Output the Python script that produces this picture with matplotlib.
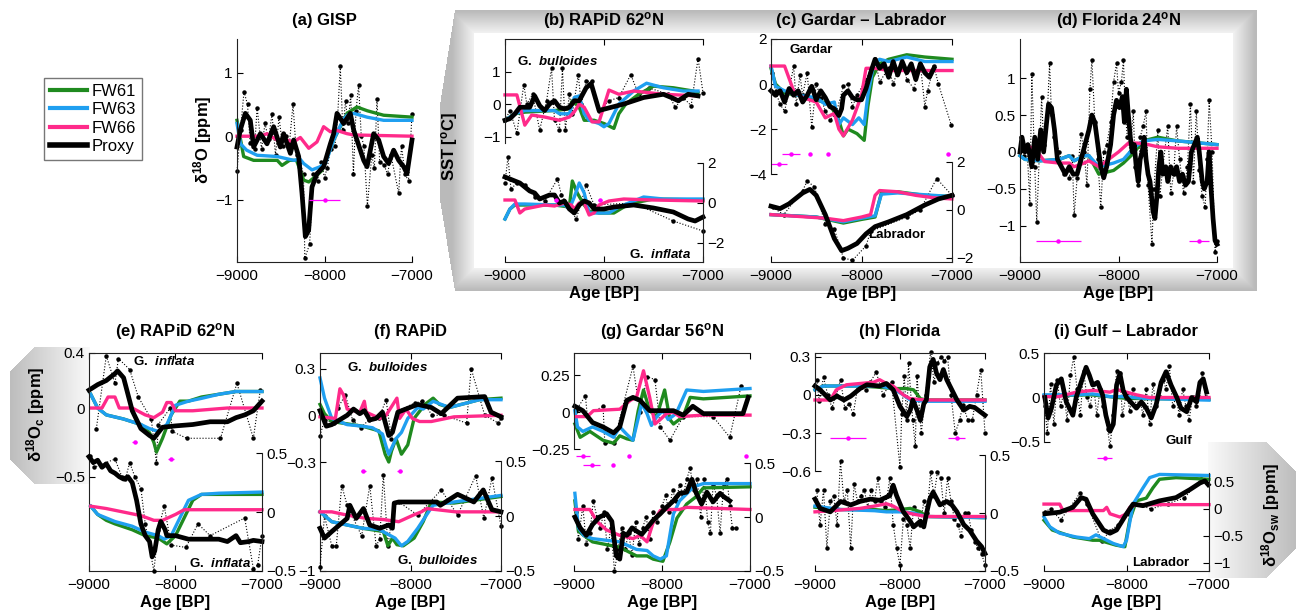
import numpy as np
import matplotlib
matplotlib.use('Agg')
import matplotlib.pyplot as plt
from matplotlib.path import Path
from matplotlib.lines import Line2D
from matplotlib.ticker import FuncFormatter

plt.rcParams['font.family'] = ['Liberation Sans', 'DejaVu Sans']
plt.rcParams['mathtext.fontset'] = 'custom'
plt.rcParams['mathtext.rm'] = 'Liberation Sans'
plt.rcParams['mathtext.it'] = 'Liberation Sans:italic'
plt.rcParams['mathtext.bf'] = 'Liberation Sans:bold'
plt.rcParams['mathtext.bfit'] = 'Liberation Sans:italic:bold'

GREEN = '#1f8a1f'
BLUE = '#1f9ff0'
PINK = '#ff2a8a'
MAG = '#ff00ff'

series_names = ['FW61', 'FW63', 'FW66', 'Proxy']

# ---------------- (a) GISP ----------------
a_fw61 = [(-9000, 0.25), (-8924, -0.32), (-8810, -0.38), (-8540, -0.38), (-8486, -0.46), (-8400, -0.38),
          (-8320, -0.38), (-8238, -0.69), (-8180, -0.72), (-8090, -0.62), (-8030, -0.54), (-7895, -0.06),
          (-7743, 0.36), (-7630, 0.46), (-7510, 0.4), (-7324, 0.33), (-7000, 0.3)]
a_fw63 = [(-9000, 0.2), (-8960, -0.12), (-8890, -0.22), (-8770, -0.3), (-8540, -0.32), (-8350, -0.38),
          (-8280, -0.36), (-8238, -0.43), (-8143, -0.53), (-8050, -0.48), (-7990, -0.43), (-7895, -0.06),
          (-7790, 0.25), (-7743, 0.33), (-7667, 0.36), (-7514, 0.3), (-7324, 0.25), (-7000, 0.25)]
a_fw66 = [(-9000, 0.0), (-8733, 0.0), (-8657, 0.04), (-8543, -0.06), (-8430, -0.06), (-8352, -0.09),
          (-8276, -0.02), (-8180, -0.19), (-8086, -0.09), (-8010, 0.15), (-7933, 0.07), (-7857, 0.09),
          (-7743, 0.04), (-7667, 0.02), (-7000, 0.0)]
a_proxy = [(-9000, -0.17), (-8962, 0.1), (-8905, 0.36), (-8848, 0.25), (-8810, -0.17), (-8733, 0.04),
           (-8657, -0.12), (-8581, 0.15), (-8505, -0.17), (-8467, 0.04), (-8390, -0.27), (-8352, -0.06),
           (-8295, -0.32), (-8257, -0.9), (-8219, -1.58), (-8181, -1.48), (-8143, -0.8), (-8086, -0.59),
           (-8010, -0.48), (-7933, -0.12), (-7895, 0.04), (-7857, 0.36), (-7781, 0.2), (-7705, 0.36),
           (-7667, 0.1), (-7629, -0.06), (-7552, -0.38), (-7514, -0.48), (-7476, -0.22), (-7438, 0.04),
           (-7381, -0.06), (-7324, -0.32), (-7267, -0.43), (-7210, -0.22), (-7152, -0.38), (-7095, -0.48),
           (-7057, -0.59), (-7000, -0.06)]
a_dots = [(-9000, -0.55), (-8960, 0.1), (-8920, 0.7), (-8880, 0.5), (-8850, -0.1), (-8800, -0.2),
          (-8770, 0.45), (-8720, -0.2), (-8680, 0.2), (-8640, -0.05), (-8600, 0.35), (-8560, -0.3),
          (-8520, 0.3), (-8480, -0.15), (-8440, 0.0), (-8400, -0.1), (-8360, 0.5), (-8320, -0.3),
          (-8280, -0.4), (-8240, -0.6), (-8225, -1.92), (-8170, -1.7), (-8130, -0.6), (-8080, -0.7),
          (-8040, -0.4), (-8000, -0.65), (-7970, -0.5), (-7930, -0.2), (-7880, -0.15), (-7850, 0.3),
          (-7820, 1.1), (-7790, 0.1), (-7760, 0.55), (-7730, 0.2), (-7700, 0.65), (-7670, -0.6),
          (-7640, 0.4), (-7610, 0.8), (-7580, 0.0), (-7550, -0.15), (-7510, -1.1), (-7460, -0.3),
          (-7430, -0.5), (-7400, 0.59), (-7370, -0.4), (-7320, -0.45), (-7280, -0.6), (-7240, -0.3),
          (-7152, -0.9), (-7120, -0.15), (-7080, -0.6), (-7040, -0.7), (-7000, 0.35)]
a_err = [(-8000, -1.0, 175)]

# ---------------- (b) RAPiD 62N, SST ----------------
b_top_fw61 = [(-9000, -0.5), (-8950, -0.4), (-8900, -0.3), (-8800, -0.25), (-8500, -0.2), (-8350, -0.15),
              (-8320, 0.1), (-8250, -0.1), (-8200, -0.5), (-8100, -0.5), (-8000, -0.6), (-7900, -0.75),
              (-7850, -0.3), (-7780, 0.0), (-7650, 0.3), (-7500, 0.55), (-7300, 0.5), (-7100, 0.4), (-7050, 0.35)]
b_top_fw63 = [(-9000, -0.5), (-8900, -0.3), (-8800, -0.2), (-8500, -0.2), (-8450, -0.3), (-8350, -0.3),
              (-8300, 0.2), (-8250, 0.25), (-8200, -0.3), (-8150, -0.5), (-8050, -0.6), (-8000, -0.7),
              (-7950, -0.6), (-7850, 0.0), (-7700, 0.4), (-7570, 0.64), (-7400, 0.5), (-7200, 0.4), (-7050, 0.4)]
b_top_fw66 = [(-9000, 0.28), (-8880, 0.28), (-8800, -0.65), (-8730, -0.34), (-8600, -0.4), (-8450, -0.5),
              (-8350, -0.4), (-8300, -0.24), (-8250, 0.0), (-8200, -0.1), (-8120, -0.55), (-8050, -0.55),
              (-7950, 0.43), (-7850, 0.3), (-7700, 0.4), (-7400, 0.3), (-7050, 0.25)]
b_top_proxy = [(-9000, -0.5), (-8950, -0.45), (-8900, -0.3), (-8850, -0.1), (-8750, -0.1), (-8700, 0.25),
               (-8650, -0.05), (-8600, -0.2), (-8550, 0.0), (-8500, 0.1), (-8450, -0.1), (-8400, -0.15),
               (-8350, -0.1), (-8300, 0.1), (-8250, 0.1), (-8180, 0.5), (-8130, 0.63), (-8050, -0.2),
               (-7800, 0.0), (-7600, 0.2), (-7400, 0.3), (-7320, 0.2), (-7250, 0.1), (-7150, 0.3), (-7050, 0.25)]
b_top_dots = [(-9000, -0.5), (-8950, -0.2), (-8880, -0.9), (-8810, 0.6), (-8780, 0.0), (-8720, 0.3),
              (-8650, -0.8), (-8580, 0.1), (-8530, 1.1), (-8500, -0.5), (-8450, -0.8), (-8420, 1.1),
              (-8390, -0.8), (-8350, 0.3), (-8320, -0.3), (-8260, 0.9), (-8230, 0.0), (-8180, 0.7),
              (-8120, 0.7), (-8050, -0.2), (-7950, 0.1), (-7850, 0.2), (-7730, 0.9), (-7650, 0.3),
              (-7550, 0.5), (-7350, 0.3), (-7280, -0.1), (-7200, 0.2), (-7120, -0.05), (-7050, 1.4), (-7000, 0.35)]
b_bot_fw61 = [(-9000, -0.8), (-8950, -0.3), (-8900, -0.1), (-8800, -0.1), (-8500, -0.1), (-8350, -0.2),
              (-8320, 1.1), (-8270, 0.5), (-8200, -0.1), (-8150, -0.4), (-8050, -0.5), (-7900, -0.5),
              (-7800, -0.2), (-7700, 0.0), (-7500, 0.2), (-7000, 0.15)]
b_bot_fw63 = [(-9000, -0.8), (-8950, -0.3), (-8900, -0.05), (-8800, -0.05), (-8500, -0.1), (-8400, -0.1),
              (-8350, -0.3), (-8300, 0.3), (-8250, 1.0), (-8200, 0.5), (-8150, -0.5), (-8050, -0.5),
              (-7950, -0.5), (-7850, -0.2), (-7700, 0.1), (-7600, 0.3), (-7400, 0.2), (-7000, 0.2)]
b_bot_fw66 = [(-9000, 0.15), (-8900, 0.15), (-8850, -0.5), (-8800, -0.3), (-8700, -0.2), (-8600, -0.1),
              (-8500, -0.15), (-8400, 0.0), (-8330, -0.1), (-8300, -0.3), (-8250, 0.0), (-8200, 0.0),
              (-8150, -0.6), (-8100, -0.5), (-8050, -0.1), (-7950, 0.1), (-7800, 0.2), (-7500, 0.15), (-7000, 0.1)]
b_bot_proxy = [(-9000, 1.3), (-8950, 1.2), (-8900, 1.1), (-8850, 1.0), (-8800, 0.8), (-8750, 0.6),
               (-8700, 0.5), (-8650, 0.2), (-8600, 0.3), (-8550, 0.4), (-8500, 0.4), (-8450, 0.0),
               (-8400, 0.1), (-8350, -0.3), (-8300, -0.5), (-8250, -0.1), (-8200, 0.1), (-8150, 0.0),
               (-8100, -0.3), (-8000, -0.3), (-7900, -0.2), (-7700, -0.1), (-7500, -0.25), (-7300, -0.45),
               (-7150, -0.8), (-7080, -0.9), (-7000, -0.7)]
b_bot_dots = [(-9000, 1.0), (-8970, 2.3), (-8940, 0.7), (-8880, 1.0), (-8800, 0.9), (-8700, 0.3),
              (-8600, 0.1), (-8470, 1.2), (-8430, 0.4), (-8280, -0.8), (-8180, 0.9), (-8100, -0.1),
              (-7700, 0.0), (-7300, -0.9), (-7000, -1.4)]
b_err = [(-8480, 0.15, 20), (-8045, 0.15, 20)]

# ---------------- (c) Gardar - Labrador, SST ----------------
c_top_fw61 = [(-9000, 0.7), (-8950, 0.0), (-8850, -0.4), (-8700, -0.5), (-8500, -0.7), (-8350, -0.9),
              (-8250, -1.6), (-8200, -2.3), (-8150, -2.0), (-8050, -2.2), (-7970, -2.5), (-7930, -1.0),
              (-7880, 0.3), (-7800, 0.9), (-7700, 1.1), (-7500, 1.3), (-7300, 1.2), (-7000, 1.1)]
c_top_fw63 = [(-9000, 0.8), (-8950, -0.1), (-8850, -0.3), (-8700, -0.5), (-8500, -0.6), (-8400, -0.9),
              (-8300, -0.8), (-8250, -1.8), (-8200, -1.5), (-8100, -1.8), (-8030, -1.5), (-7970, -1.8),
              (-7930, -0.5), (-7870, 0.8), (-7800, 1.1), (-7700, 1.0), (-7500, 1.2), (-7300, 1.0), (-7000, 1.0)]
c_top_fw66 = [(-9000, 0.8), (-8850, 0.8), (-8750, -0.3), (-8650, -0.6), (-8500, -0.8), (-8400, -1.5),
              (-8300, -1.3), (-8250, -2.0), (-8200, -2.3), (-8100, -1.6), (-8000, -0.5), (-7950, 0.7),
              (-7850, 0.7), (-7700, 0.6), (-7500, 0.6), (-7000, 0.6)]
c_top_proxy = [(-9000, -0.3), (-8950, -0.5), (-8900, -0.3), (-8850, -0.8), (-8800, -0.2), (-8750, -0.5),
               (-8700, -0.3), (-8650, -0.8), (-8600, -0.5), (-8550, -0.1), (-8500, -0.7), (-8450, -0.3),
               (-8400, -0.6), (-8350, -1.0), (-8300, -1.1), (-8250, -1.4), (-8220, -1.1), (-8200, -0.5),
               (-8150, -0.3), (-8100, -0.6), (-8050, -0.7), (-8000, -0.7), (-7950, -0.2), (-7900, 0.5),
               (-7850, 1.1), (-7800, 0.7), (-7750, 0.9), (-7700, 0.3), (-7650, 1.0), (-7600, 0.4),
               (-7550, 1.0), (-7500, 0.5), (-7450, 0.9), (-7400, 0.2), (-7350, 0.9), (-7300, 0.5),
               (-7250, 0.3), (-7200, 0.7)]
c_top_dots = [(-8990, 0.5), (-8950, -0.3), (-8900, -0.9), (-8850, -1.2), (-8800, -0.3), (-8750, 0.8),
              (-8720, -0.9), (-8680, 0.4), (-8650, -0.5), (-8600, 0.5), (-8550, -1.9), (-8500, 0.0),
              (-8450, -0.6), (-8400, -1.2), (-8350, -1.6), (-8280, -1.3), (-8200, -0.1), (-8150, 0.0),
              (-8100, -1.0), (-8050, -0.5), (-7950, 0.2), (-7850, 1.1), (-7800, 0.1), (-7700, 0.7),
              (-7650, 0.0), (-7550, 1.2), (-7500, 0.2), (-7420, -0.2), (-7350, 0.9), (-7300, -1.0),
              (-7270, -0.3), (-7200, 0.8), (-7150, 0.0), (-7010, -1.8)]
c_err = [(-8780, -3.1, 100), (-8570, -3.1, 15), (-8370, -3.1, 15), (-7040, -3.1, 15), (-8910, -3.57, 90)]
c_bot_fw61 = [(-9000, -0.2), (-8500, -0.3), (-8200, -0.55), (-8000, -0.4), (-7850, -0.3), (-7780, 0.7),
              (-7600, 0.75), (-7300, 0.6), (-7000, 0.55)]
c_bot_fw63 = [(-9000, -0.2), (-8500, -0.3), (-8200, -0.5), (-8000, -0.35), (-7850, -0.25), (-7780, 0.65),
              (-7600, 0.7), (-7000, 0.55)]
c_bot_fw66 = [(-9000, -0.2), (-8800, -0.25), (-8600, -0.3), (-8400, -0.35), (-8200, -0.45), (-8000, -0.3),
              (-7900, -0.2), (-7850, 0.6), (-7800, 0.8), (-7600, 0.75), (-7400, 0.6), (-7200, 0.5), (-7000, 0.45)]
c_bot_proxy = [(-9000, 0.15), (-8900, 0.05), (-8800, 0.25), (-8650, 0.7), (-8570, 0.85), (-8500, 0.6),
               (-8400, -0.2), (-8300, -1.2), (-8220, -1.7), (-8150, -1.6), (-8050, -1.4), (-7950, -1.0),
               (-7850, -0.7), (-7700, -0.5), (-7500, -0.2), (-7300, 0.2), (-7150, 0.45), (-7000, 0.6)]
c_bot_dots = [(-8980, 0.1), (-8860, -0.2), (-8650, 0.8), (-8600, 1.2), (-8520, 0.95), (-8400, -0.6),
              (-8300, -0.8), (-8200, -2.0), (-8100, -2.1), (-7950, -1.5), (-7900, -0.9), (-7500, -0.3),
              (-7350, 0.0), (-7170, 1.3), (-7000, 0.6)]

# ---------------- (d) Florida 24N, SST ----------------
d_fw61 = [(-9000, -0.05), (-8950, -0.1), (-8800, -0.12), (-8600, -0.1), (-8500, -0.05), (-8450, -0.12),
          (-8350, -0.05), (-8300, -0.05), (-8200, -0.3), (-8050, -0.25), (-7950, -0.15), (-7850, -0.02),
          (-7750, 0.15), (-7600, 0.2), (-7400, 0.15), (-7000, 0.1)]
d_fw63 = [(-9000, -0.05), (-8950, -0.1), (-8800, -0.12), (-8600, -0.1), (-8500, -0.05), (-8450, -0.12),
          (-8350, -0.05), (-8300, -0.05), (-8200, -0.2), (-8050, -0.15), (-7950, -0.1), (-7850, 0.05),
          (-7750, 0.15), (-7600, 0.17), (-7400, 0.15), (-7000, 0.1)]
d_fw66 = [(-8960, 0.08), (-8850, 0.05), (-8750, -0.13), (-8600, -0.15), (-8500, -0.15), (-8450, -0.2),
          (-8350, -0.15), (-8300, -0.12), (-8200, -0.2), (-8150, -0.15), (-8000, 0.0), (-7900, 0.12),
          (-7800, 0.12), (-7700, 0.1), (-7600, 0.07), (-7400, 0.05), (-7000, 0.05)]
d_proxy = [(-9000, 0.0), (-8980, 0.2), (-8950, 0.0), (-8920, 0.1), (-8880, -0.2), (-8850, 0.2),
           (-8820, -0.1), (-8790, 0.3), (-8760, 0.0), (-8730, 0.4), (-8710, 0.65), (-8680, 0.6),
           (-8650, 0.3), (-8620, -0.1), (-8580, -0.2), (-8540, -0.3), (-8500, -0.2), (-8460, -0.3),
           (-8420, -0.3), (-8380, -0.1), (-8340, 0.1), (-8300, 0.3), (-8270, 0.5), (-8240, 0.4),
           (-8210, 0.1), (-8180, -0.2), (-8150, -0.35), (-8120, -0.2), (-8080, 0.1), (-8050, 0.5),
           (-8020, 0.7), (-7990, 0.6), (-7960, 0.75), (-7940, 0.4), (-7920, 0.85), (-7900, 0.5),
           (-7880, 0.2), (-7860, 0.0), (-7840, 0.1), (-7820, -0.2), (-7800, -0.4), (-7780, -0.1),
           (-7760, 0.0), (-7740, 0.2), (-7720, -0.1), (-7700, -0.3), (-7680, -0.4), (-7650, -0.8),
           (-7630, -0.9), (-7610, -0.6), (-7590, -0.2), (-7570, 0.0), (-7550, -0.3), (-7520, -0.2),
           (-7500, -0.4), (-7470, -0.2), (-7440, -0.3), (-7410, -0.2), (-7380, -0.4), (-7350, -0.3),
           (-7320, -0.45), (-7290, -0.4), (-7260, 0.0), (-7230, 0.1), (-7200, 0.2), (-7180, 0.0),
           (-7150, -0.4), (-7130, -0.5), (-7100, -0.4), (-7080, 0.0), (-7060, -0.5), (-7040, -0.9),
           (-7020, -1.2), (-7000, -1.25)]
d_dots = [(-8990, 0.2), (-8960, -0.05), (-8930, 0.1), (-8900, -0.7), (-8880, 1.05), (-8850, -0.2),
          (-8830, -0.95), (-8800, 0.1), (-8780, 0.75), (-8760, 0.1), (-8720, 0.6), (-8700, 1.2),
          (-8680, 0.5), (-8650, 0.2), (-8600, 0.0), (-8550, -0.3), (-8500, -0.35), (-8470, -0.05),
          (-8450, -0.85), (-8420, -0.35), (-8380, 0.25), (-8350, 0.0), (-8320, -0.45), (-8290, 0.85),
          (-8270, 1.25), (-8240, 0.4), (-8210, -0.1), (-8180, -0.75), (-8150, 0.0), (-8120, 0.1),
          (-8080, 0.4), (-8050, 0.95), (-8020, 1.2), (-8000, 0.8), (-7970, 0.95), (-7950, 1.25),
          (-7930, 0.5), (-7910, 0.2), (-7880, 0.0), (-7850, 0.55), (-7830, -0.2), (-7800, -0.45),
          (-7780, 0.2), (-7750, 0.35), (-7720, 0.55), (-7700, -0.45), (-7660, -1.25), (-7640, -0.5),
          (-7600, 0.3), (-7580, -0.6), (-7550, -0.2), (-7500, 0.35), (-7470, -0.55), (-7440, -0.3),
          (-7410, 0.35), (-7380, -0.1), (-7340, -0.55), (-7300, -0.2), (-7270, 0.65), (-7240, -0.4),
          (-7210, 0.55), (-7180, -0.25), (-7150, -0.6), (-7120, -0.75), (-7100, -0.1), (-7080, 0.7),
          (-7050, 0.0), (-7020, -1.35), (-7000, -1.2)]
d_err = [(-8610, -1.2, 230), (-7180, -1.2, 100)]

# ---------------- (e) RAPiD 62N, d18Oc ----------------
e_top_fw61 = [(-8980, 0.1), (-8900, 0.0), (-8800, -0.05), (-8600, -0.08), (-8400, -0.12), (-8300, -0.18),
              (-8250, -0.25), (-8220, -0.32), (-8150, -0.22), (-8050, -0.05), (-7950, 0.05), (-7850, 0.05),
              (-7700, 0.08), (-7500, 0.1), (-7300, 0.12), (-7000, 0.12)]
e_top_fw63 = [(-8980, 0.1), (-8900, 0.0), (-8800, -0.05), (-8600, -0.08), (-8400, -0.12), (-8300, -0.15),
              (-8200, -0.17), (-8100, -0.12), (-8000, 0.02), (-7850, 0.05), (-7700, 0.07), (-7500, 0.1),
              (-7300, 0.12), (-7000, 0.12)]
e_top_fw66 = [(-8980, 0.0), (-8850, 0.0), (-8780, 0.08), (-8700, 0.08), (-8650, 0.0), (-8500, 0.0),
              (-8350, -0.05), (-8250, -0.07), (-8150, -0.03), (-8100, 0.04), (-8050, 0.04), (-8000, -0.02),
              (-7800, -0.02), (-7600, -0.01), (-7400, 0.0), (-7000, 0.0)]
e_top_proxy = [(-9000, 0.13), (-8900, 0.17), (-8800, 0.2), (-8700, 0.25), (-8670, 0.27), (-8600, 0.22),
               (-8550, 0.1), (-8500, -0.02), (-8400, -0.15), (-8300, -0.2), (-8250, -0.22), (-8200, -0.18),
               (-8150, -0.14), (-8000, -0.13), (-7800, -0.12), (-7600, -0.1), (-7400, -0.1), (-7300, -0.07),
               (-7200, -0.05), (-7100, -0.02), (-7000, 0.05)]
e_top_dots = [(-8915, -0.15), (-8800, 0.38), (-8700, 0.18), (-8660, 0.36), (-8530, 0.28), (-8430, 0.08),
              (-8280, -0.08), (-8220, -0.4), (-8200, -0.12), (-8060, 0.0), (-8040, -0.17), (-7870, -0.22),
              (-7480, -0.22), (-7290, 0.18), (-7100, -0.22), (-7020, 0.13)]
e_err = [(-8470, -0.25, 30), (-8052, -0.37, 30)]
e_bot_fw61 = [(-8980, 0.05), (-8900, -0.02), (-8800, -0.07), (-8700, -0.1), (-8500, -0.15), (-8350, -0.2),
              (-8200, -0.22), (-8100, -0.27), (-8000, -0.2), (-7900, -0.05), (-7800, 0.1), (-7700, 0.15),
              (-7000, 0.15)]
e_bot_fw63 = [(-8980, 0.05), (-8900, -0.02), (-8800, -0.05), (-8700, -0.08), (-8500, -0.12), (-8350, -0.17),
              (-8200, -0.2), (-8130, -0.23), (-8050, -0.2), (-7950, -0.05), (-7850, 0.1), (-7700, 0.15),
              (-7500, 0.16), (-7000, 0.17)]
e_bot_fw66 = [(-8980, 0.05), (-8800, 0.03), (-8600, 0.0), (-8400, -0.03), (-8250, -0.07), (-8150, -0.07),
              (-8000, -0.02), (-7900, 0.02), (-7700, 0.02), (-7000, 0.02)]
e_bot_proxy = [(-9000, 0.47), (-8950, 0.42), (-8900, 0.44), (-8850, 0.38), (-8800, 0.41), (-8750, 0.35),
               (-8700, 0.33), (-8650, 0.3), (-8600, 0.28), (-8550, 0.3), (-8500, 0.25), (-8450, 0.1),
               (-8400, -0.1), (-8350, -0.2), (-8300, -0.25), (-8270, -0.38), (-8240, -0.33), (-8200, -0.15),
               (-8170, -0.08), (-8120, -0.15), (-8100, -0.2), (-8000, -0.2), (-7850, -0.23), (-7700, -0.23),
               (-7500, -0.23), (-7400, -0.25), (-7300, -0.2), (-7250, -0.26), (-7150, -0.25), (-7100, -0.24),
               (-7000, -0.25)]
e_bot_dots = [(-8990, 0.48), (-8940, 0.38), (-8700, 0.45), (-8620, 0.3), (-8580, 0.28), (-8530, 0.42),
              (-8470, 0.3), (-8400, 0.2), (-8350, -0.1), (-8250, -0.5), (-8200, -0.15), (-8130, 0.05),
              (-8050, -0.28), (-7880, -0.3), (-7740, -0.1), (-7600, -0.2), (-7200, -0.05), (-7100, -0.48),
              (-7050, -0.45), (-7000, -0.2)]

# ---------------- (f) RAPiD, d18Oc ----------------
f_top_fw61 = [(-9000, 0.07), (-8950, 0.01), (-8870, -0.04), (-8530, -0.07), (-8350, -0.1), (-8280, -0.25),
              (-8240, -0.3), (-8210, -0.23), (-8160, -0.15), (-8100, -0.25), (-8030, -0.19), (-7960, -0.02),
              (-7840, 0.07), (-7750, 0.11), (-7680, 0.07), (-7570, 0.05), (-7240, 0.1), (-7000, 0.11)]
f_top_fw63 = [(-9000, 0.24), (-8950, 0.11), (-8870, -0.02), (-8700, -0.06), (-8530, -0.07), (-8420, -0.08),
              (-8310, -0.12), (-8270, -0.2), (-8240, -0.25), (-8160, -0.15), (-8100, -0.11), (-8030, -0.02),
              (-7920, 0.05), (-7860, 0.04), (-7750, 0.09), (-7570, 0.05), (-7240, 0.1), (-7000, 0.1)]
f_top_fw66 = [(-9000, -0.01), (-8830, -0.02), (-8780, 0.17), (-8740, 0.13), (-8700, 0.04), (-8560, 0.02),
              (-8510, 0.09), (-8490, 0.02), (-8340, -0.02), (-8270, 0.0), (-8150, 0.11), (-8120, -0.02),
              (-8050, 0.04), (-7980, -0.02), (-7900, -0.04), (-7770, -0.04), (-7520, -0.01), (-7000, 0.0)]
f_top_proxy = [(-9000, 0.03), (-8930, -0.07), (-8870, -0.06), (-8700, 0.0), (-8630, 0.04), (-8560, 0.01),
               (-8510, 0.03), (-8450, -0.03), (-8380, -0.02), (-8310, 0.02), (-8240, -0.13), (-8200, -0.11),
               (-8140, 0.02), (-8030, 0.045), (-7920, 0.07), (-7770, 0.05), (-7660, 0.01), (-7480, 0.11),
               (-7180, 0.12), (-7110, 0.02), (-7000, -0.01)]
f_top_dots = [(-9000, -0.13), (-8950, -0.03), (-8850, -0.05), (-8800, 0.05), (-8720, 0.13), (-8640, -0.03),
              (-8550, -0.08), (-8460, -0.03), (-8350, -0.02), (-8270, 0.1), (-8210, -0.15), (-8130, 0.03),
              (-7950, 0.08), (-7870, 0.09), (-7760, 0.0), (-7630, 0.0), (-7380, -0.05), (-7330, 0.3),
              (-7180, 0.0), (-7030, -0.05), (-7000, -0.02)]
f_err = [(-8520, -0.36, 30), (-8120, -0.36, 30)]
f_bot_fw61 = [(-9000, 0.04), (-8870, -0.05), (-8530, -0.11), (-8300, -0.14), (-8250, -0.27), (-8200, -0.2),
              (-8150, -0.26), (-8080, -0.27), (-7960, -0.2), (-7860, -0.05), (-7800, 0.07), (-7770, 0.13),
              (-7520, 0.12), (-7000, 0.18)]
f_bot_fw63 = [(-9000, 0.04), (-8870, -0.05), (-8700, -0.08), (-8530, -0.11), (-8350, -0.12), (-8170, -0.2),
              (-8100, -0.27), (-8030, -0.23), (-7920, -0.11), (-7800, 0.04), (-7750, 0.1), (-7520, 0.13),
              (-7000, 0.19)]
f_bot_fw66 = [(-9000, 0.04), (-8870, 0.04), (-8700, 0.01), (-8490, -0.02), (-8300, -0.03), (-8130, -0.05),
              (-7970, 0.01), (-7880, 0.04), (-7820, 0.07), (-7500, 0.04), (-7000, 0.04)]
f_bot_proxy = [(-9000, -0.11), (-8950, -0.2), (-8870, -0.14), (-8700, -0.02), (-8670, 0.1), (-8600, -0.02),
               (-8520, 0.07), (-8450, -0.08), (-8340, -0.11), (-8240, -0.08), (-8200, -0.11), (-8180, 0.12),
               (-8130, 0.13), (-7960, 0.13), (-7710, 0.13), (-7670, 0.1), (-7480, 0.2), (-7300, 0.13),
               (-7196, 0.24), (-7100, 0.06), (-7000, 0.04)]
f_bot_dots = [(-9000, -0.46), (-8950, 0.0), (-8870, -0.27), (-8820, -0.27), (-8760, 0.28), (-8700, 0.1),
              (-8540, -0.18), (-8450, 0.28), (-8380, -0.27), (-8340, -0.21), (-8300, 0.38), (-8250, -0.27),
              (-8180, 0.12), (-8130, 0.13), (-7920, 0.01), (-7660, 0.24), (-7480, 0.01), (-7280, 0.37),
              (-7190, -0.02), (-7100, 0.35), (-7000, -0.09)]

# ---------------- (g) Gardar 56N, d18Oc ----------------
g_top_fw61 = [(-8990, -0.08), (-8930, -0.17), (-8820, -0.13), (-8670, -0.19), (-8550, -0.21), (-8480, -0.16),
              (-8400, -0.18), (-8330, -0.19), (-8270, 0.01), (-8210, 0.15), (-8140, 0.01), (-8060, -0.03),
              (-7970, 0.15), (-7910, -0.05), (-7870, -0.08), (-7760, -0.03), (-7680, 0.1), (-7530, 0.09),
              (-7000, 0.11)]
g_top_fw63 = [(-8990, 0.01), (-8960, -0.1), (-8900, -0.13), (-8790, -0.1), (-8670, -0.13), (-8550, -0.17),
              (-8480, -0.1), (-8400, -0.15), (-8330, -0.19), (-8230, 0.06), (-8170, -0.01), (-8120, -0.09),
              (-8060, -0.03), (-7990, 0.01), (-7930, -0.05), (-7840, -0.01), (-7720, 0.15), (-7530, 0.14),
              (-7000, 0.16)]
g_top_fw66 = [(-8970, -0.03), (-8850, -0.03), (-8780, 0.01), (-8480, 0.02), (-8360, 0.08), (-8290, 0.1),
              (-8210, 0.28), (-8140, 0.1), (-8080, -0.08), (-8020, -0.05), (-7950, -0.01), (-7870, 0.0),
              (-7800, -0.03), (-7530, -0.02), (-7000, -0.02)]
g_top_proxy = [(-8990, 0.04), (-8900, 0.01), (-8790, -0.07), (-8670, -0.1), (-8550, -0.14), (-8480, -0.1),
               (-8400, 0.08), (-8330, 0.1), (-8250, 0.08), (-8140, 0.01), (-8020, 0.01), (-7870, 0.01),
               (-7760, -0.02), (-7650, 0.04), (-7530, -0.01), (-7340, -0.01), (-7080, -0.01), (-7020, 0.1)]
g_top_dots = [(-8980, 0.01), (-8870, 0.11), (-8850, -0.02), (-8670, 0.04), (-8650, -0.21), (-8550, -0.21),
              (-8330, 0.31), (-8250, 0.0), (-8170, 0.24), (-8080, 0.22), (-8020, -0.1), (-7910, -0.19),
              (-7760, -0.03), (-7420, -0.03), (-7230, -0.17), (-7100, 0.18)]
g_err = [(-8900, -0.295, 80), (-8370, -0.295, 10), (-7040, -0.295, 10), (-8800, -0.36, 100), (-8560, -0.36, 10)]
g_bot_fw61 = [(-8990, 0.15), (-8950, -0.13), (-8890, -0.17), (-8790, -0.23), (-8480, -0.28), (-8290, -0.36),
              (-8170, -0.36), (-8100, -0.39), (-7990, -0.41), (-7910, -0.23), (-7830, -0.01), (-7720, 0.12),
              (-7610, 0.19), (-7530, 0.27), (-7000, 0.28)]
g_bot_fw63 = [(-8990, 0.22), (-8950, -0.1), (-8890, -0.17), (-8790, -0.2), (-8480, -0.23), (-8290, -0.3),
              (-8170, -0.31), (-8100, -0.36), (-8020, -0.39), (-7950, -0.36), (-7870, 0.03), (-7800, 0.15),
              (-7640, 0.28), (-7530, 0.31), (-7000, 0.31)]
g_bot_fw66 = [(-8990, 0.07), (-8820, 0.07), (-8740, -0.04), (-8630, -0.12), (-8480, -0.17), (-8330, -0.2),
              (-8250, -0.17), (-8170, -0.23), (-8100, -0.05), (-8020, 0.06), (-7950, 0.07), (-7800, 0.07),
              (-7720, 0.09), (-7000, 0.07)]
g_bot_proxy = [(-8990, 0.0), (-8930, -0.1), (-8860, -0.17), (-8790, -0.07), (-8710, 0.0), (-8630, 0.03),
               (-8570, -0.04), (-8520, -0.36), (-8480, -0.39), (-8440, -0.15), (-8400, -0.17), (-8340, -0.1),
               (-8290, -0.13), (-8230, -0.16), (-8170, -0.1), (-8100, -0.03), (-8020, 0.03), (-7950, 0.09),
               (-7870, 0.15), (-7800, 0.22), (-7720, 0.23), (-7660, 0.35), (-7610, 0.22), (-7550, 0.12),
               (-7490, 0.23), (-7420, 0.14), (-7340, 0.22), (-7300, 0.19), (-7230, 0.15)]
g_bot_dots = [(-8980, 0.05), (-8950, -0.2), (-8900, 0.1), (-8860, -0.25), (-8820, -0.15), (-8780, 0.15),
              (-8740, 0.0), (-8700, -0.1), (-8660, 0.05), (-8620, -0.3), (-8580, -0.1), (-8540, -0.5),
              (-8500, -0.3), (-8460, -0.1), (-8420, -0.3), (-8380, -0.15), (-8340, -0.35), (-8300, -0.05),
              (-8260, -0.25), (-8220, -0.1), (-8180, 0.0), (-8140, -0.2), (-8100, 0.05), (-8060, -0.05),
              (-8000, 0.1), (-7960, 0.2), (-7920, 0.05), (-7880, 0.25), (-7840, 0.15), (-7800, 0.3),
              (-7760, 0.2), (-7720, 0.35), (-7680, 0.45), (-7640, 0.25), (-7600, 0.35), (-7560, 0.0),
              (-7520, 0.35), (-7480, -0.05), (-7450, -0.15), (-7420, 0.3), (-7380, 0.2), (-7340, -0.15),
              (-7300, 0.3), (-7260, 0.35), (-7230, 0.1), (-7200, -0.1), (-7160, -0.1)]

# ---------------- (h) Florida, d18Oc ----------------
h_top_fw61 = [(-9000, 0.04), (-8900, 0.07), (-8470, 0.07), (-8240, 0.06), (-8080, 0.05), (-7920, 0.05),
              (-7840, 0.04), (-7760, -0.03), (-7690, -0.04), (-7000, -0.04)]
h_top_fw63 = [(-9000, 0.04), (-8900, 0.07), (-8470, 0.07), (-8240, 0.07), (-8080, 0.05), (-7960, 0.0),
              (-7880, -0.04), (-7690, -0.05), (-7000, -0.05)]
h_top_fw66 = [(-9000, -0.04), (-8820, -0.04), (-8750, 0.04), (-8630, 0.08), (-8470, 0.09), (-8310, 0.1),
              (-8240, 0.12), (-8160, 0.09), (-8080, 0.07), (-7960, 0.0), (-7880, -0.03), (-7690, -0.04),
              (-7000, -0.04)]
h_top_proxy = [(-9000, 0.07), (-8940, 0.04), (-8820, -0.04), (-8740, -0.01), (-8660, -0.04), (-8580, -0.01),
               (-8470, 0.05), (-8390, 0.08), (-8240, 0.07), (-8160, 0.09), (-8080, 0.04), (-8000, -0.09),
               (-7920, -0.17), (-7880, -0.12), (-7850, -0.04), (-7800, -0.12), (-7760, -0.2), (-7720, -0.07),
               (-7690, -0.04), (-7650, 0.22), (-7610, 0.28), (-7570, 0.17), (-7530, 0.12), (-7490, 0.2),
               (-7450, 0.12), (-7390, 0.04), (-7330, -0.04), (-7250, -0.12), (-7180, -0.09), (-7120, -0.1),
               (-7060, -0.13), (-7000, -0.16)]
h_top_dots = [(-8980, 0.12), (-8950, -0.05), (-8900, 0.14), (-8850, 0.0), (-8800, -0.1), (-8750, 0.0),
              (-8700, 0.12), (-8650, -0.1), (-8600, -0.07), (-8550, -0.15), (-8500, 0.05), (-8400, 0.04),
              (-8350, 0.1), (-8280, 0.18), (-8200, 0.0), (-8100, 0.1), (-8000, -0.57), (-7980, -0.15),
              (-7950, 0.15), (-7920, -0.2), (-7900, 0.25), (-7850, -0.2), (-7820, -0.4), (-7800, 0.15),
              (-7750, -0.3), (-7700, 0.0), (-7640, 0.34), (-7600, 0.1), (-7560, 0.25), (-7520, 0.3),
              (-7480, 0.27), (-7440, 0.3), (-7400, 0.0), (-7350, -0.3), (-7300, -0.2), (-7260, -0.08),
              (-7200, -0.2), (-7150, -0.2), (-7100, 0.0), (-7050, 0.2), (-7000, -0.3)]
h_err = [(-8610, -0.34, 210), (-7330, -0.34, 100)]
h_bot_fw61 = [(-9000, 0.05), (-8700, 0.03), (-8300, 0.03), (-8160, 0.02), (-8000, 0.03), (-7880, 0.04),
              (-7760, 0.01), (-7690, -0.03), (-7000, -0.04)]
h_bot_fw63 = [(-9000, 0.06), (-8700, 0.03), (-8300, 0.02), (-8160, 0.01), (-8000, 0.01), (-7840, 0.0),
              (-7690, -0.03), (-7000, -0.04)]
h_bot_fw66 = [(-9000, 0.01), (-8800, 0.02), (-8470, 0.04), (-8300, 0.06), (-8160, 0.08), (-8080, 0.06),
              (-7960, 0.01), (-7840, -0.01), (-7690, -0.03), (-7000, -0.03)]
h_bot_proxy = [(-9000, 0.12), (-8940, 0.04), (-8820, 0.01), (-8700, 0.1), (-8580, 0.07), (-8470, 0.1),
               (-8350, 0.12), (-8240, 0.11), (-8120, 0.15), (-8080, 0.24), (-8040, 0.15), (-7960, 0.01),
               (-7880, -0.07), (-7840, -0.12), (-7760, -0.07), (-7720, -0.12), (-7690, -0.01), (-7650, 0.12),
               (-7610, 0.18), (-7530, 0.07), (-7450, 0.1), (-7390, 0.07), (-7330, 0.01), (-7250, -0.1),
               (-7180, -0.15), (-7100, -0.24), (-7040, -0.29), (-7000, -0.35)]
h_bot_dots = [(-8980, 0.2), (-8940, -0.1), (-8900, 0.2), (-8860, -0.3), (-8820, 0.1), (-8780, 0.15),
              (-8740, -0.1), (-8700, 0.45), (-8660, 0.1), (-8620, 0.2), (-8580, -0.3), (-8540, 0.25),
              (-8500, 0.1), (-8460, 0.15), (-8420, 0.2), (-8380, 0.05), (-8340, 0.2), (-8300, 0.1),
              (-8260, 0.3), (-8220, 0.1), (-8180, 0.05), (-8150, 0.15), (-8120, 0.3), (-8080, -0.1),
              (-8040, -0.3), (-8000, -0.45), (-7960, -0.05), (-7920, -0.1), (-7880, -0.3), (-7840, 0.05),
              (-7800, 0.0), (-7760, -0.1), (-7720, 0.1), (-7680, 0.0), (-7640, 0.35), (-7600, 0.15),
              (-7560, 0.35), (-7520, 0.3), (-7480, 0.0), (-7440, 0.3), (-7400, 0.1), (-7360, -0.05),
              (-7320, -0.1), (-7280, -0.2), (-7240, 0.0), (-7200, 0.0), (-7160, -0.15), (-7120, -0.25),
              (-7080, -0.3), (-7040, -0.35), (-7000, -0.45)]

# ---------------- (i) Gulf - Labrador, d18Osw ----------------
i_top_fw61 = [(-9000, 0.02), (-8430, 0.03), (-8000, -0.01), (-7000, -0.02)]
i_top_fw63 = [(-9000, 0.03), (-8610, 0.03), (-8410, 0.04), (-8200, 0.01), (-8000, 0.01), (-7800, -0.01),
              (-7000, -0.03)]
i_top_fw66 = [(-9000, 0.01), (-8820, 0.01), (-8610, 0.06), (-8410, 0.08), (-8200, 0.06), (-8120, 0.09),
              (-8000, 0.06), (-7880, 0.03), (-7720, 0.0), (-7000, 0.0)]
i_top_proxy = [(-8990, 0.0), (-8950, -0.23), (-8910, -0.12), (-8850, 0.14), (-8790, 0.21), (-8730, -0.05),
               (-8650, -0.2), (-8610, 0.0), (-8550, 0.17), (-8490, 0.34), (-8450, 0.25), (-8410, 0.14),
               (-8350, 0.17), (-8290, 0.03), (-8250, -0.2), (-8200, -0.38), (-8160, -0.3), (-8120, 0.14),
               (-8080, 0.27), (-8040, 0.08), (-8000, 0.0), (-7940, -0.06), (-7880, -0.12), (-7820, -0.05),
               (-7760, -0.12), (-7700, -0.23), (-7640, -0.08), (-7580, 0.17), (-7520, 0.29), (-7460, 0.14),
               (-7390, 0.0), (-7340, -0.12), (-7270, -0.16), (-7210, 0.0), (-7150, -0.05), (-7110, 0.17),
               (-7070, 0.21), (-7030, 0.06)]
i_top_dots = [(-8990, -0.1), (-8960, -0.4), (-8920, 0.15), (-8880, -0.3), (-8840, 0.2), (-8800, -0.1),
              (-8760, 0.05), (-8720, -0.25), (-8680, 0.25), (-8640, 0.45), (-8600, 0.1), (-8560, -0.2),
              (-8520, 0.3), (-8480, 0.0), (-8440, -0.1), (-8400, 0.15), (-8360, -0.2), (-8320, 0.1),
              (-8280, -0.1), (-8230, -0.35), (-8200, -0.55), (-8160, -0.2), (-8120, 0.3), (-8080, 0.28),
              (-8050, -0.2), (-8000, 0.05), (-7960, -0.15), (-7920, 0.1), (-7880, -0.1), (-7840, 0.0),
              (-7800, -0.2), (-7760, 0.1), (-7720, -0.3), (-7680, 0.15), (-7640, -0.1), (-7600, 0.0),
              (-7560, 0.2), (-7520, 0.1), (-7480, 0.35), (-7440, -0.1), (-7400, 0.0), (-7360, -0.2),
              (-7320, 0.1), (-7280, -0.1), (-7240, -0.25), (-7200, 0.0), (-7160, -0.1), (-7120, 0.0),
              (-7080, 0.28), (-7040, 0.0)]
i_err = [(-8265, -0.68, 90)]
i_bot_fw61 = [(-9000, -0.21), (-8900, -0.39), (-8650, -0.52), (-8410, -0.58), (-8330, -0.58), (-8130, -0.67),
              (-8020, -0.7), (-7960, -0.2), (-7880, 0.15), (-7760, 0.2), (-7680, 0.39), (-7600, 0.55),
              (-7400, 0.58), (-7000, 0.55)]
i_bot_fw63 = [(-9000, -0.15), (-8930, -0.33), (-8810, -0.45), (-8610, -0.52), (-8450, -0.55), (-8370, -0.48),
              (-8160, -0.64), (-8040, -0.7), (-8000, -0.58), (-7920, 0.09), (-7800, 0.39), (-7720, 0.58),
              (-7600, 0.64), (-7000, 0.62)]
i_bot_fw66 = [(-9000, 0.09), (-8810, 0.09), (-8770, -0.03), (-8280, -0.03), (-8240, 0.03), (-8200, -0.09),
              (-8080, -0.15), (-8000, -0.09), (-7960, 0.03), (-7880, 0.08), (-7000, 0.08)]
i_bot_proxy = [(-8990, -0.09), (-8810, -0.06), (-8650, 0.03), (-8550, 0.21), (-8490, 0.18), (-8410, -0.09),
               (-8280, -0.39), (-8200, -0.45), (-8120, -0.39), (-8000, -0.09), (-7920, 0.09), (-7800, 0.06),
               (-7600, 0.15), (-7400, 0.21), (-7230, 0.36), (-7110, 0.48), (-7050, 0.52), (-7010, 0.45)]
i_bot_dots = [(-8990, -0.05), (-8920, 0.0), (-8800, -0.2), (-8700, 0.0), (-8560, 0.3), (-8480, 0.1),
              (-8300, -0.6), (-8200, -0.4), (-8100, -0.3), (-7970, -0.1), (-7900, 0.1), (-7700, 0.0),
              (-7500, 0.1), (-7300, 0.2), (-7100, 0.55)]

W, H = 1296, 616
fig = plt.figure(figsize=(W / 100, H / 100), dpi=100)


def xy(pts):
    a = np.array(pts, dtype=float)
    return a[:, 0], a[:, 1]


def fmt(v, p):
    return ('%g' % v).replace('-', '\u2212')


def draw(ax, dots, g, b, p, k, err=None):
    x, y = xy(dots)
    ax.plot(x, y, ':', color='k', lw=0.8, marker='o', ms=2.2, clip_on=False)
    for s, c in ((g, GREEN), (b, BLUE), (p, PINK)):
        x, y = xy(s)
        ax.plot(x, y, color=c, lw=2.4, solid_joinstyle='round', clip_on=False)
    x, y = xy(k)
    ax.plot(x, y, color='k', lw=3.4, solid_joinstyle='round', clip_on=False)
    if err:
        for ex, ey, ew in err:
            ax.errorbar([ex], [ey], xerr=[ew], fmt='o', color=MAG, ms=2.2, lw=0.9, capsize=0)


def make_ax(x0, x1, y0, y1, ylim, yticks, side='left', bounds=None, top=False, xlab=True):
    ax = fig.add_axes([x0 / W, 1 - y1 / H, (x1 - x0) / W, (y1 - y0) / H])
    ax.set_facecolor('none')
    ax.set_xlim(-9000, -7000)
    ax.set_ylim(*ylim)
    ax.set_yticks(yticks)
    ax.yaxis.set_major_formatter(FuncFormatter(fmt))
    ax.tick_params(direction='in', length=4, labelsize=11, pad=3, width=0.8)
    for s in ax.spines.values():
        s.set_linewidth(0.8)
        s.set_color('#222222')
    if side == 'left':
        ax.spines['right'].set_visible(False)
        ax.spines['top'].set_visible(top)
        ax.set_xticks([-9000, -8000, -7000])
        ax.xaxis.set_major_formatter(FuncFormatter(fmt))
        ax.tick_params(axis='x', top=top, pad=5)
        if xlab:
            ax.set_xlabel('Age [BP]', fontsize=12, fontweight='bold', labelpad=2)
    else:
        for s in ('left', 'top', 'bottom'):
            ax.spines[s].set_visible(False)
        ax.set_xticks([])
        ax.yaxis.tick_right()
    if bounds is not None:
        ax.spines[side].set_bounds(*bounds)
    return ax


def species(ax, x, y, genus, name, ha='left'):
    ax.text(x, y, genus + '  $\\mathbfit{' + name + '}$', fontsize=9.5, fontweight='bold',
            ha=ha, va='center')


# ---- decorative grey frames ----
bg = fig.add_axes([0, 0, 1, 1], zorder=-10)
bg.set_xlim(0, W)
bg.set_ylim(H, 0)
bg.axis('off')
yy, xx = np.mgrid[0:H, 0:W] + 0.5
pts = np.column_stack([xx.ravel(), yy.ravel()])
shade = np.ones((H, W))
alpha = np.zeros((H, W))

top_frame = [(455, 10), (1257, 10), (1257, 291), (455, 291), (440, 200), (440, 105)]
ix0, iy0, ix1, iy1 = 474, 33, 1233, 268
inside = Path(top_frame).contains_points(pts).reshape(H, W)
dist = np.maximum.reduce([ix0 - xx, xx - ix1, iy0 - yy, yy - iy1])
m = inside & (dist > 0)
shade[m] = 0.95 - 0.22 * np.clip(dist[m] / 22.0, 0, 1)
alpha[m] = 1

left_tab = [(35, 347), (90, 347), (90, 484), (35, 484), (10, 459), (10, 372)]
m = Path(left_tab).contains_points(pts).reshape(H, W)
shade[m] = 0.74 + 0.24 * np.clip((xx[m] - 10) / 80.0, 0, 1)
alpha[m] = 1

right_tab = [(1208, 442), (1267, 442), (1296, 472), (1296, 548), (1267, 578), (1208, 578)]
m = Path(right_tab).contains_points(pts).reshape(H, W)
shade[m] = 0.98 - 0.24 * np.clip((xx[m] - 1208) / 88.0, 0, 1)
alpha[m] = 1

bg.imshow(np.dstack([shade, shade, shade, alpha]), extent=(0, W, H, 0), interpolation='bilinear')

# ---- top row ----
ax = make_ax(237, 412, 39, 262, (-1.98, 1.53), [-1, 0, 1], xlab=False)
draw(ax, a_dots, a_fw61, a_fw63, a_fw66, a_proxy, a_err)
ax.set_title('(a) GISP', fontsize=12, fontweight='bold', pad=10)

ax = make_ax(505, 703, 39, 262, (-4.86, 2.0), [-1, 0, 1], bounds=(-1.2, 2.0), top=True)
draw(ax, b_top_dots, b_top_fw61, b_top_fw63, b_top_fw66, b_top_proxy)
species(ax, -8880, 1.3, 'G.', 'bulloides')
ax.set_title('(b) RAPiD 62$^{\\mathbf{o}}$N', fontsize=12, fontweight='bold', pad=10)
ax2 = make_ax(505, 703, 39, 262, (-2.95, 8.2), [-2, 0, 2], side='right', bounds=(-2.95, 2.0))
draw(ax2, b_bot_dots, b_bot_fw61, b_bot_fw63, b_bot_fw66, b_bot_proxy, b_err)
species(ax2, -7430, -2.55, 'G.', 'inflata', ha='center')

ax = make_ax(771, 952, 39, 262, (-7.9, 2.0), [-4, -2, 0, 2], bounds=(-4, 2.0), top=True)
draw(ax, c_top_dots, c_top_fw61, c_top_fw63, c_top_fw66, c_top_proxy, c_err)
ax.text(-8800, 1.5, 'Gardar', fontsize=9.5, fontweight='bold', va='center')
ax.set_title('(c) Gardar \u2013 Labrador', fontsize=12, fontweight='bold', pad=10)
ax2 = make_ax(771, 952, 39, 262, (-2.17, 7.1), [-2, 0, 2], side='right', bounds=(-2.17, 2.0))
draw(ax2, c_bot_dots, c_bot_fw61, c_bot_fw63, c_bot_fw66, c_bot_proxy)
ax2.text(-7930, -1.05, 'Labrador', fontsize=9.5, fontweight='bold', va='center')

ax = make_ax(1020, 1217, 39, 262, (-1.49, 1.53), [-1, -0.5, 0, 0.5, 1])
draw(ax, d_dots, d_fw61, d_fw63, d_fw66, d_proxy, d_err)
ax.set_title('(d) Florida 24$^{\\mathbf{o}}$N', fontsize=12, fontweight='bold', pad=10)

# ---- bottom row ----
Y0, Y1 = 353, 571
ax = make_ax(89, 262, Y0, Y1, (-1.185, 0.4), [-0.5, 0, 0.4], top=True)
draw(ax, e_top_dots, e_top_fw61, e_top_fw63, e_top_fw66, e_top_proxy, e_err)
species(ax, -8490, 0.34, 'G.', 'inflata')
ax.set_title('(e) RAPiD 62$^{\\mathbf{o}}$N', fontsize=12, fontweight='bold', pad=12)
ax2 = make_ax(89, 262, Y0, Y1, (-0.5, 1.35), [-0.5, 0, 0.5], side='right', bounds=(-0.5, 0.5))
draw(ax2, e_bot_dots, e_bot_fw61, e_bot_fw63, e_bot_fw66, e_bot_proxy)
species(ax2, -7490, -0.44, 'G.', 'inflata', ha='center')

ax = make_ax(320, 501, Y0, Y1, (-1.0, 0.4), [-1, -0.3, 0, 0.3], top=True)
draw(ax, f_top_dots, f_top_fw61, f_top_fw63, f_top_fw66, f_top_proxy, f_err)
species(ax, -8700, 0.31, 'G.', 'bulloides')
ax.set_title('(f) RAPiD', fontsize=12, fontweight='bold', pad=12)
ax2 = make_ax(320, 501, Y0, Y1, (-0.5, 1.49), [-0.5, 0, 0.5], side='right', bounds=(-0.5, 0.5))
draw(ax2, f_bot_dots, f_bot_fw61, f_bot_fw63, f_bot_fw66, f_bot_proxy)
species(ax2, -7700, -0.4, 'G.', 'bulloides', ha='center')

ax = make_ax(574, 750, Y0, Y1, (-1.074, 0.4), [-0.25, 0, 0.25], bounds=(-0.25, 0.4), top=True)
draw(ax, g_top_dots, g_top_fw61, g_top_fw63, g_top_fw66, g_top_proxy, g_err)
ax.set_title('(g) Gardar 56$^{\\mathbf{o}}$N', fontsize=12, fontweight='bold', pad=12)
ax2 = make_ax(574, 750, Y0, Y1, (-0.5, 1.52), [-0.5, 0, 0.5], side='right', bounds=(-0.5, 0.5))
draw(ax2, g_bot_dots, g_bot_fw61, g_bot_fw63, g_bot_fw66, g_bot_proxy)

ax = make_ax(815, 985, Y0, Y1, (-1.386, 0.33), [-0.6, -0.3, 0, 0.3], bounds=(-0.6, 0.33), top=True)
draw(ax, h_top_dots, h_top_fw61, h_top_fw63, h_top_fw66, h_top_proxy, h_err)
ax.set_title('(h) Florida', fontsize=12, fontweight='bold', pad=12)
ax2 = make_ax(815, 985, Y0, Y1, (-0.5, 1.38), [-0.5, 0, 0.5], side='right', bounds=(-0.5, 0.5))
draw(ax2, h_bot_dots, h_bot_fw61, h_bot_fw63, h_bot_fw66, h_bot_proxy)

ax = make_ax(1044, 1209, Y0, Y1, (-1.95, 0.5), [-0.5, 0, 0.5], bounds=(-0.5, 0.5), top=True)
draw(ax, i_top_dots, i_top_fw61, i_top_fw63, i_top_fw66, i_top_proxy, i_err)
ax.text(-7365, -0.49, 'Gulf', fontsize=9.5, fontweight='bold', ha='center', va='center')
ax.set_title('(i) Gulf \u2013 Labrador', fontsize=12, fontweight='bold', pad=12)
ax2 = make_ax(1044, 1209, Y0, Y1, (-1.15, 2.89), [-1, -0.5, 0, 0.5], side='right', bounds=(-1.15, 0.67))
draw(ax2, i_bot_dots, i_bot_fw61, i_bot_fw63, i_bot_fw66, i_bot_proxy)
ax2.text(-7590, -1.0, 'Labrador', fontsize=9.5, fontweight='bold', ha='center', va='center')

# ---- y labels placed on the figure ----
fig.text(203 / W, 1 - 140 / H, '\u03b4$^{\\mathbf{18}}$O [ppm]', rotation=90, fontsize=12,
         fontweight='bold', ha='center', va='center')
fig.text(449 / W, 1 - 147 / H, 'SST [$^{\\mathbf{o}}$C]', rotation=90, fontsize=12,
         fontweight='bold', ha='center', va='center')
fig.text(36 / W, 1 - 414 / H, '\u03b4$^{\\mathbf{18}}$O$_{\\mathbf{c}}$ [ppm]', rotation=90, fontsize=12,
         fontweight='bold', ha='center', va='center')
fig.text(1271 / W, 1 - 515 / H, '\u03b4$^{\\mathbf{18}}$O$_{\\mathbf{sw}}$ [ppm]', rotation=90, fontsize=12,
         fontweight='bold', ha='center', va='center')

# ---- legend ----
handles = [Line2D([], [], color=GREEN, lw=3), Line2D([], [], color=BLUE, lw=3),
           Line2D([], [], color=PINK, lw=3), Line2D([], [], color='k', lw=4)]
leg = fig.legend(handles, series_names, loc='upper left', bbox_to_anchor=(44 / W, 1 - 78 / H),
                 fontsize=12, frameon=True, fancybox=False, edgecolor='#555555', handlelength=2.2,
                 handletextpad=0.3, borderpad=0.35, labelspacing=0.2, borderaxespad=0)
leg.get_frame().set_linewidth(1.0)

fig.savefig('out.png', dpi=100)
